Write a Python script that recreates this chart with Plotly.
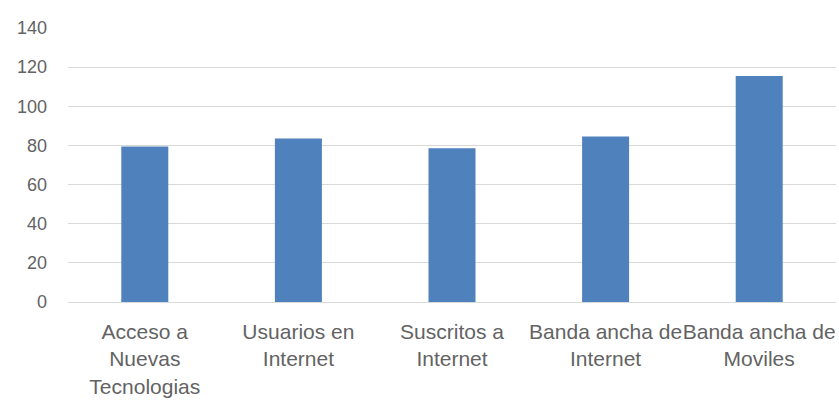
import plotly.graph_objects as go

categories = [
    "Acceso a<br>Nuevas<br>Tecnologias",
    "Usuarios en<br>Internet",
    "Suscritos a<br>Internet",
    "Banda ancha de<br>Internet",
    "Banda ancha de<br>Moviles",
]
values = [79.5, 83.5, 78.5, 84.5, 115.5]
y_ticks = [0, 20, 40, 60, 80, 100, 120, 140]

bar_color = "#4F81BD"
text_color = "#636363"
grid_color = "#D9D9D9"
font_family = "Liberation Sans, Arial, sans-serif"

fig = go.Figure(
    go.Bar(
        x=categories,
        y=values,
        marker=dict(color=bar_color, line=dict(width=0)),
        hoverinfo="x+y",
    )
)

fig.update_layout(
    width=839,
    height=401,
    margin=dict(l=68, r=3, t=28, b=99),
    paper_bgcolor="white",
    plot_bgcolor="white",
    bargap=0.694,
    showlegend=False,
    font=dict(family=font_family, size=18, color=text_color),
)

fig.update_xaxes(
    tickangle=0,
    showgrid=False,
    showline=False,
    ticks="",
    ticklabelstandoff=15,
    tickfont=dict(size=21, color=text_color),
)

fig.update_yaxes(
    range=[0, 140],
    tickvals=y_ticks,
    showgrid=True,
    gridcolor=grid_color,
    gridwidth=1,
    zeroline=True,
    zerolinecolor=grid_color,
    zerolinewidth=1,
    showline=False,
    ticks="",
    ticklabelstandoff=20,
    tickfont=dict(size=18, color=text_color),
)

fig.write_html("out.html")
